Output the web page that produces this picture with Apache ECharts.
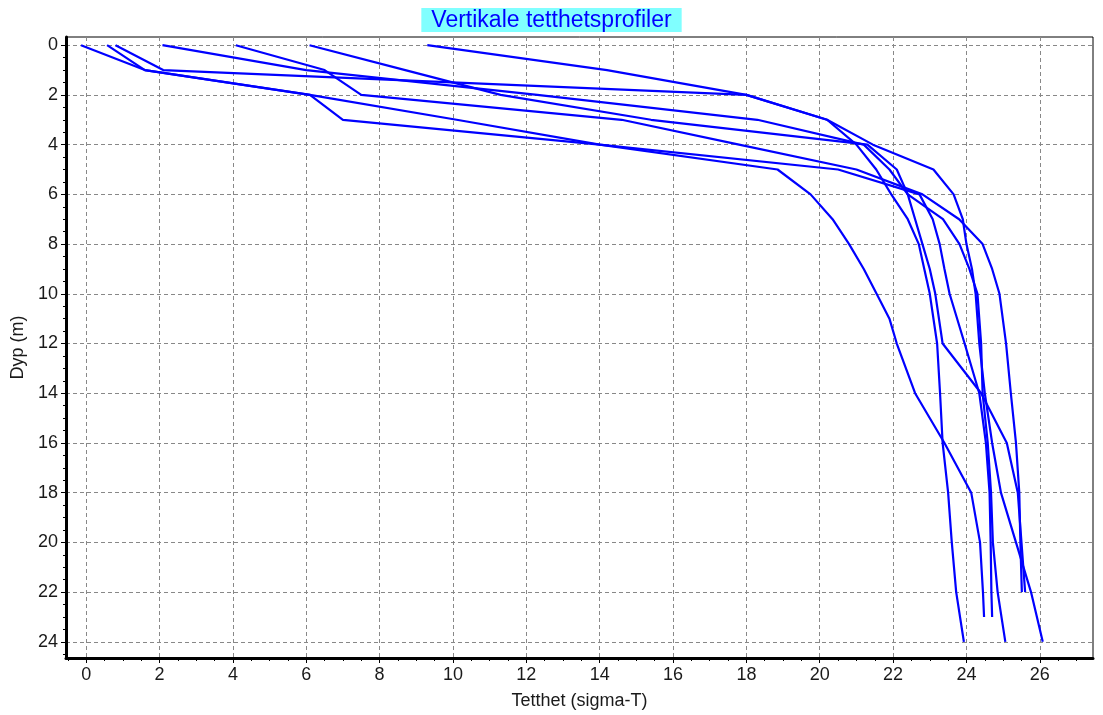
<!DOCTYPE html>
<html>
<head>
<meta charset="utf-8">
<script src="https://cdn.jsdelivr.net/npm/echarts@6/dist/echarts.min.js"></script>
<style>
html, body { margin: 0; padding: 0; background: #fff; }
#main { width: 1103px; height: 715px; }
</style>
</head>
<body>
<div id="main"></div>
<script>
// tick labels
var xTicks = [0, 2, 4, 6, 8, 10, 12, 14, 16, 18, 20, 22, 24, 26];
var xMinorTicks = [-0.5, 0, 0.5, 1, 1.5, 2, 2.5, 3, 3.5, 4, 4.5, 5, 5.5, 6, 6.5, 7, 7.5, 8, 8.5, 9, 9.5, 10, 10.5, 11, 11.5, 12, 12.5, 13, 13.5, 14, 14.5, 15, 15.5, 16, 16.5, 17, 17.5, 18, 18.5, 19, 19.5, 20, 20.5, 21, 21.5, 22, 22.5, 23, 23.5, 24, 24.5, 25, 25.5, 26, 26.5, 27];
var yTicks = [0, 2, 4, 6, 8, 10, 12, 14, 16, 18, 20, 22, 24];
var yMinorTicks = [0, 0.5, 1, 1.5, 2, 2.5, 3, 3.5, 4, 4.5, 5, 5.5, 6, 6.5, 7, 7.5, 8, 8.5, 9, 9.5, 10, 10.5, 11, 11.5, 12, 12.5, 13, 13.5, 14, 14.5, 15, 15.5, 16, 16.5, 17, 17.5, 18, 18.5, 19, 19.5, 20, 20.5, 21, 21.5, 22, 22.5, 23, 23.5, 24, 24.5];

// profil 1
var dyp1 = [0, 1, 2, 3, 4, 5, 6, 7, 8, 9, 10, 11, 12, 14, 16, 18, 20, 22, 23];
var tetthet1 = [-0.14, 1.6, 6.1, 7.0, 14.0, 18.85, 19.75, 20.35, 20.8, 21.2, 21.55, 21.9, 22.1, 22.6, 23.4, 24.13, 24.37, 24.45, 24.48];
// profil 2
var dyp2 = [0, 1, 2, 3, 4, 5, 6, 7, 8, 9, 10, 12, 14, 16, 18, 20, 22, 23];
var tetthet2 = [0.57, 1.6, 6.1, 10.1, 14.0, 20.5, 22.72, 23.08, 23.27, 23.4, 23.54, 23.95, 24.35, 24.53, 24.63, 24.66, 24.68, 24.7];
// profil 3
var dyp3 = [0, 1, 2, 3, 4, 5, 6, 7, 8, 9, 10, 12, 14, 16, 18, 20, 22, 24];
var tetthet3 = [0.8, 2.1, 18.0, 20.2, 21.0, 21.54, 21.95, 22.4, 22.7, 22.85, 23.0, 23.2, 23.28, 23.35, 23.5, 23.6, 23.72, 23.93];
// profil 4
var dyp4 = [0, 1, 2, 3, 4, 5, 6, 7, 8, 9, 10, 12, 14, 16, 18, 20, 22, 24];
var tetthet4 = [2.08, 6.0, 12.3, 18.3, 21.2, 21.9, 22.4, 23.36, 23.81, 24.08, 24.3, 24.4, 24.44, 24.58, 24.67, 24.72, 24.85, 25.06];
// profil 5
var dyp5 = [0, 1, 2, 3, 4, 5, 6, 7, 8, 9, 10, 12, 14, 16, 18, 20, 22];
var tetthet5 = [4.08, 6.5, 7.5, 14.6, 17.8, 21.0, 22.8, 23.8, 24.44, 24.7, 24.9, 25.08, 25.21, 25.35, 25.44, 25.47, 25.51];
// profil 6
var dyp6 = [0, 1, 2, 3, 4, 5, 6, 7, 8, 9, 10, 12, 14, 16, 18, 20, 22];
var tetthet6 = [6.09, 8.7, 11.3, 15.4, 21.3, 22.1, 22.4, 22.6, 22.8, 23.0, 23.15, 23.35, 24.4, 25.1, 25.4, 25.5, 25.6];
// profil 7
var dyp7 = [0, 1, 2, 3, 4, 5, 6, 7, 8, 9, 10, 12, 14, 16, 18, 20, 22, 24];
var tetthet7 = [9.3, 14.2, 18.0, 20.2, 21.45, 23.1, 23.65, 23.9, 24.0, 24.15, 24.25, 24.35, 24.5, 24.7, 24.94, 25.35, 25.76, 26.08];

var profiler = [
    [tetthet1, dyp1], [tetthet2, dyp2], [tetthet3, dyp3], [tetthet4, dyp4],
    [tetthet5, dyp5], [tetthet6, dyp6], [tetthet7, dyp7]
];

var myChart = echarts.init(document.getElementById('main'));

var font = '"Liberation Sans", Arial, sans-serif';
var xMin = -0.55, xMax = 27.45;
var yMin = -0.33, yMax = 24.65;

var series = profiler.map(function (p, i) {
    var data = [];
    for (var k = 0; k < p[0].length; k++) {
        data.push([p[0][k], p[1][k]]);
    }
    return {
        name: 'profil ' + (i + 1),
        type: 'line',
        data: data,
        showSymbol: false,
        symbol: 'none',
        lineStyle: { color: '#0000ff', width: 2.2 },
        xAxisIndex: 0,
        yAxisIndex: 0
    };
});

var option = {
    animation: false,
    backgroundColor: '#fff',
    title: {
        text: 'Vertikale tetthetsprofiler',
        left: 'center',
        top: 8,
        padding: [1, 10, 0, 10],
        backgroundColor: '#80ffff',
        textStyle: { color: '#0000ff', fontSize: 23, fontWeight: 'normal', fontFamily: font }
    },
    grid: {
        left: 66, right: 10, top: 37, bottom: 54,
        show: true, borderColor: '#000', borderWidth: 1
    },
    xAxis: [{
        type: 'value',
        min: xMin, max: xMax,
        position: 'bottom',
        name: 'Tetthet (sigma-T)',
        nameLocation: 'middle',
        nameGap: 34,
        nameTextStyle: { color: '#1a1a1a', fontSize: 18, fontFamily: font },
        axisLine: { show: true, onZero: false, lineStyle: { color: '#000', width: 3 } },
        axisTick: { show: true, length: 5, customValues: xTicks, lineStyle: { color: '#000' } },
        axisLabel: { customValues: xTicks, margin: 8, color: '#1a1a1a', fontSize: 18, fontFamily: font },
        splitLine: { show: true, lineStyle: { color: '#888', type: [4, 3], width: 1 } }
    }, {
        type: 'value',
        min: xMin, max: xMax,
        position: 'bottom',
        axisLine: { show: false, onZero: false },
        axisTick: { show: true, length: 3, customValues: xMinorTicks, lineStyle: { color: '#000' } },
        axisLabel: { show: false },
        splitLine: { show: false }
    }],
    yAxis: [{
        type: 'value',
        min: yMin, max: yMax,
        inverse: true,
        position: 'left',
        name: 'Dyp (m)',
        nameLocation: 'middle',
        nameGap: 32,
        nameTextStyle: { color: '#1a1a1a', fontSize: 18, fontFamily: font },
        axisLine: { show: true, onZero: false, lineStyle: { color: '#000', width: 3 } },
        axisTick: { show: true, length: 5, customValues: yTicks, lineStyle: { color: '#000' } },
        axisLabel: { customValues: yTicks, margin: 8, color: '#1a1a1a', fontSize: 18, fontFamily: font },
        splitLine: { show: true, lineStyle: { color: '#888', type: [4, 3], width: 1 } }
    }, {
        type: 'value',
        min: yMin, max: yMax,
        inverse: true,
        position: 'left',
        axisLine: { show: false, onZero: false },
        axisTick: { show: true, length: 3, customValues: yMinorTicks, lineStyle: { color: '#000' } },
        axisLabel: { show: false },
        splitLine: { show: false }
    }],
    series: series
};

myChart.setOption(option);
</script>
</body>
</html>
